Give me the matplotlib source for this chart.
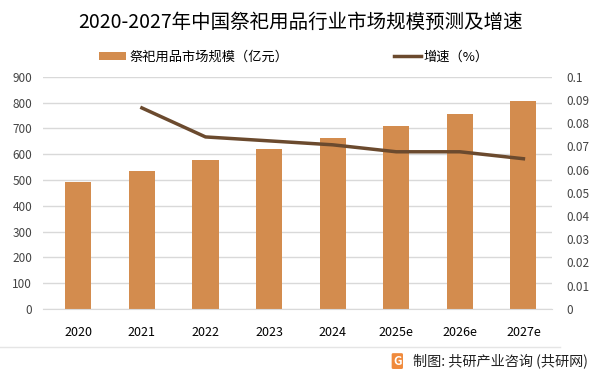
import matplotlib.pyplot as plt
import numpy as np

plt.rcParams['font.family'] = ['Noto Sans CJK SC', 'DejaVu Sans']

years = ['2020', '2021', '2022', '2023', '2024', '2025e', '2026e', '2027e']
scale = [492, 535, 578, 620, 663, 709, 756, 806]
growth = [None, 0.0866, 0.0741, 0.0724, 0.0707, 0.0677, 0.0677, 0.0647]

bar_color = '#D38C4E'
line_color = '#6B4A2E'

fig = plt.figure(figsize=(6.02, 3.73), dpi=100)
ax = fig.add_axes([0.072, 0.172, 0.845, 0.622])
ax2 = ax.twinx()

x = np.arange(len(years))
ax.bar(x, scale, width=0.41, color=bar_color, label='祭祀用品市场规模（亿元）', zorder=2)
gx = [i for i, g in enumerate(growth) if g is not None]
gy = [g for g in growth if g is not None]
ax2.plot(gx, gy, color=line_color, lw=2.5, label='增速（%）')

ax.set_ylim(0, 900)
ax.set_yticks(range(0, 901, 100))
ax2.set_ylim(0, 0.1)
ax2.set_yticks(np.linspace(0, 0.1, 11))
ax2.set_yticklabels(['0', '0.01', '0.02', '0.03', '0.04', '0.05', '0.06', '0.07', '0.08', '0.09', '0.1'])
ax.set_xlim(-0.55, 7.45)
ax.set_xticks(x)
ax.set_xticklabels(years)

ax.grid(axis='y', color='#D9D9D9', lw=1, zorder=0)
ax.set_axisbelow(True)
for a in (ax, ax2):
    for s in a.spines.values():
        s.set_visible(False)
    a.tick_params(length=0, labelsize=8.5, colors='#444444')
ax.spines['bottom'].set_visible(True)
ax.spines['bottom'].set_color('#D9D9D9')
ax.tick_params(axis='x', pad=12, colors='black', labelsize=9)
ax.tick_params(axis='y', pad=8)
ax2.tick_params(axis='y', pad=10)

fig.text(0.5, 0.94, '2020-2027年中国祭祀用品行业市场规模预测及增速', ha='center', va='center', fontsize=14)

h1, l1 = ax.get_legend_handles_labels()
h2, l2 = ax2.get_legend_handles_labels()
fig.legend([h1[0]], l1, loc='center left', bbox_to_anchor=(0.165, 0.847), frameon=False, fontsize=9.5,
           handlelength=2.0, handleheight=0.55, handletextpad=0.3, borderpad=0, borderaxespad=0)
fig.legend([h2[0]], l2, loc='center left', bbox_to_anchor=(0.655, 0.847), frameon=False, fontsize=9.5,
           handlelength=2.0, handletextpad=0.2, borderpad=0, borderaxespad=0)

fig.add_artist(plt.Line2D([0.0, 0.93], [0.07, 0.07], color='#E5E5E5', lw=1, transform=fig.transFigure))
fig.text(0.977, 0.032, '制图: 共研产业咨询 (共研网)', ha='right', va='center', fontsize=10.2, color='#222222')
fig.text(0.66, 0.032, 'G', ha='center', va='center', fontsize=8.5, color='white', fontweight='bold',
         bbox=dict(boxstyle='round,pad=0.12', fc='#F08A3C', ec='none'))

fig.savefig('out.png', dpi=100)
